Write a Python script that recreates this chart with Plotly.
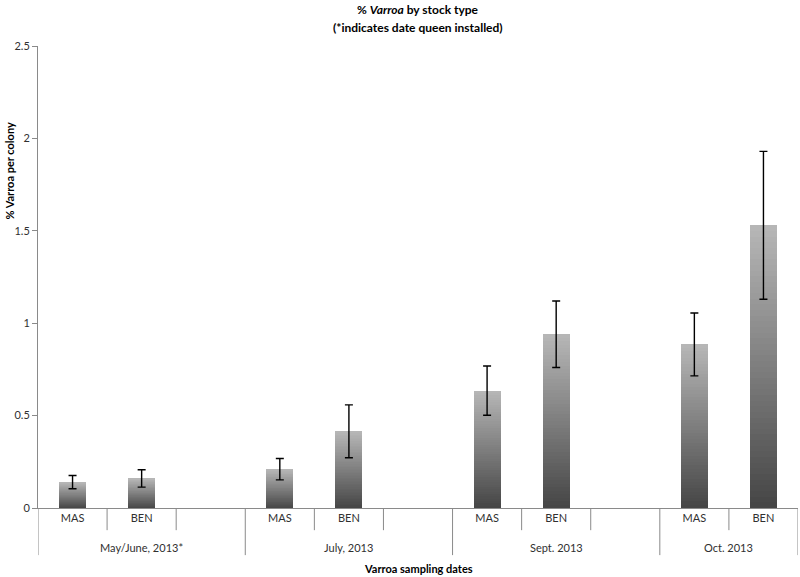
import plotly.graph_objects as go

# data
groups = ["May/June, 2013*", "July, 2013", "Sept. 2013", "Oct. 2013"]
stocks = ["MAS", "BEN"]
mas_vals = [0.14, 0.21, 0.635, 0.885]
ben_vals = [0.16, 0.415, 0.94, 1.53]
mas_err = [0.036, 0.058, 0.133, 0.17]
ben_err = [0.047, 0.143, 0.18, 0.40]
y_ticks = [0, 0.5, 1, 1.5, 2, 2.5]
y_ticktext = ["0", "0.5", "1", "1.5", "2", "2.5"]

FONT = "Lato"
AXIS_GREY = "#8a8a8a"

# slots: each group gets MAS, BEN and an empty slot (last group has no empty slot)
x_pos, y_vals, y_err, x_text = [], [], [], []
for g in range(len(groups)):
    for i, (vals, errs) in enumerate([(mas_vals, mas_err), (ben_vals, ben_err)]):
        x_pos.append(3 * g + i)
        y_vals.append(vals[g])
        y_err.append(errs[g])
        x_text.append(stocks[i])
x_max = 3 * (len(groups) - 1) + len(stocks) - 0.5

fig = go.Figure()

# gradient bars: stack thin slices, dark at the bottom, light at the top
n_slices = 50
dark, light = 70, 182
for k in range(n_slices):
    c = int(round(dark + (light - dark) * k / (n_slices - 1)))
    fig.add_trace(go.Bar(
        x=x_pos, y=[v / n_slices for v in y_vals],
        width=0.39,
        marker=dict(color=f"rgb({c},{c},{c})", line=dict(width=0)),
        hoverinfo="skip", showlegend=False,
    ))

# error bars
fig.add_trace(go.Scatter(
    x=x_pos, y=y_vals, mode="markers",
    marker=dict(size=1, opacity=0),
    error_y=dict(type="data", array=y_err, color="black", thickness=1.4, width=4),
    showlegend=False, hoverinfo="skip",
))

# category dividers below the axis
sub_bottom = -0.048
grp_bottom = -0.102
shapes = []
for g in range(len(groups)):
    start = 3 * g - 0.5
    shapes.append(dict(type="line", xref="x", yref="paper", x0=start, x1=start,
                       y0=0, y1=grp_bottom, line=dict(color=AXIS_GREY, width=1)))
    n_sub = 3 if g < len(groups) - 1 else 2
    for s in range(1, n_sub):
        shapes.append(dict(type="line", xref="x", yref="paper", x0=start + s, x1=start + s,
                           y0=0, y1=sub_bottom, line=dict(color=AXIS_GREY, width=1)))
shapes.append(dict(type="line", xref="x", yref="paper", x0=x_max, x1=x_max,
                   y0=0, y1=grp_bottom, line=dict(color=AXIS_GREY, width=1)))

annotations = []
for g, name in enumerate(groups):
    n_sub = 3 if g < len(groups) - 1 else 2
    annotations.append(dict(x=3 * g - 0.5 + n_sub / 2, y=-0.085, xref="x", yref="paper",
                            text=name, showarrow=False, yanchor="middle",
                            font=dict(family=FONT, size=11, color="#303030")))
annotations.append(dict(x=0.5, y=-0.132, xref="paper", yref="paper",
                        text="<b>Varroa sampling dates</b>", showarrow=False,
                        xanchor="center", yanchor="middle",
                        font=dict(family=FONT, size=11, color="black")))
annotations.append(dict(x=-0.037, y=0.73, xref="paper", yref="paper", textangle=-90,
                        text="<b>% Varroa per colony</b>", showarrow=False,
                        xanchor="center", yanchor="middle",
                        font=dict(family=FONT, size=11, color="black")))
# two-line chart title
annotations.append(dict(x=0.5, y=1.078, xref="paper", yref="paper",
                        text="<b>% <i>Varroa</i> by stock type</b>", showarrow=False,
                        xanchor="center", yanchor="middle",
                        font=dict(family=FONT, size=12, color="black")))
annotations.append(dict(x=0.5, y=1.039, xref="paper", yref="paper",
                        text="<b>(*indicates date queen installed)</b>", showarrow=False,
                        xanchor="center", yanchor="middle",
                        font=dict(family=FONT, size=12, color="black")))

fig.update_layout(
    width=800, height=577,
    margin=dict(l=38, r=2, t=46, b=69),
    plot_bgcolor="white", paper_bgcolor="white",
    barmode="stack", bargap=0,
    xaxis=dict(range=[-0.5, x_max], tickvals=x_pos, ticktext=x_text, ticks="",
               showline=True, linecolor=AXIS_GREY, linewidth=1, showgrid=False,
               zeroline=False, fixedrange=True,
               tickfont=dict(family=FONT, size=11, color="#303030")),
    yaxis=dict(range=[0, 2.5], tickvals=y_ticks, ticktext=y_ticktext, ticks="outside",
               ticklen=5, tickcolor=AXIS_GREY, showline=True, linecolor=AXIS_GREY,
               linewidth=1, showgrid=False, zeroline=False,
               tickfont=dict(family=FONT, size=11, color="#303030")),
    shapes=shapes,
    annotations=annotations,
)

# drop the default page margin so the figure sits at the window's corner
fig.write_html("out.html", config={"displayModeBar": False},
               post_script="document.body.style.margin='0';")
